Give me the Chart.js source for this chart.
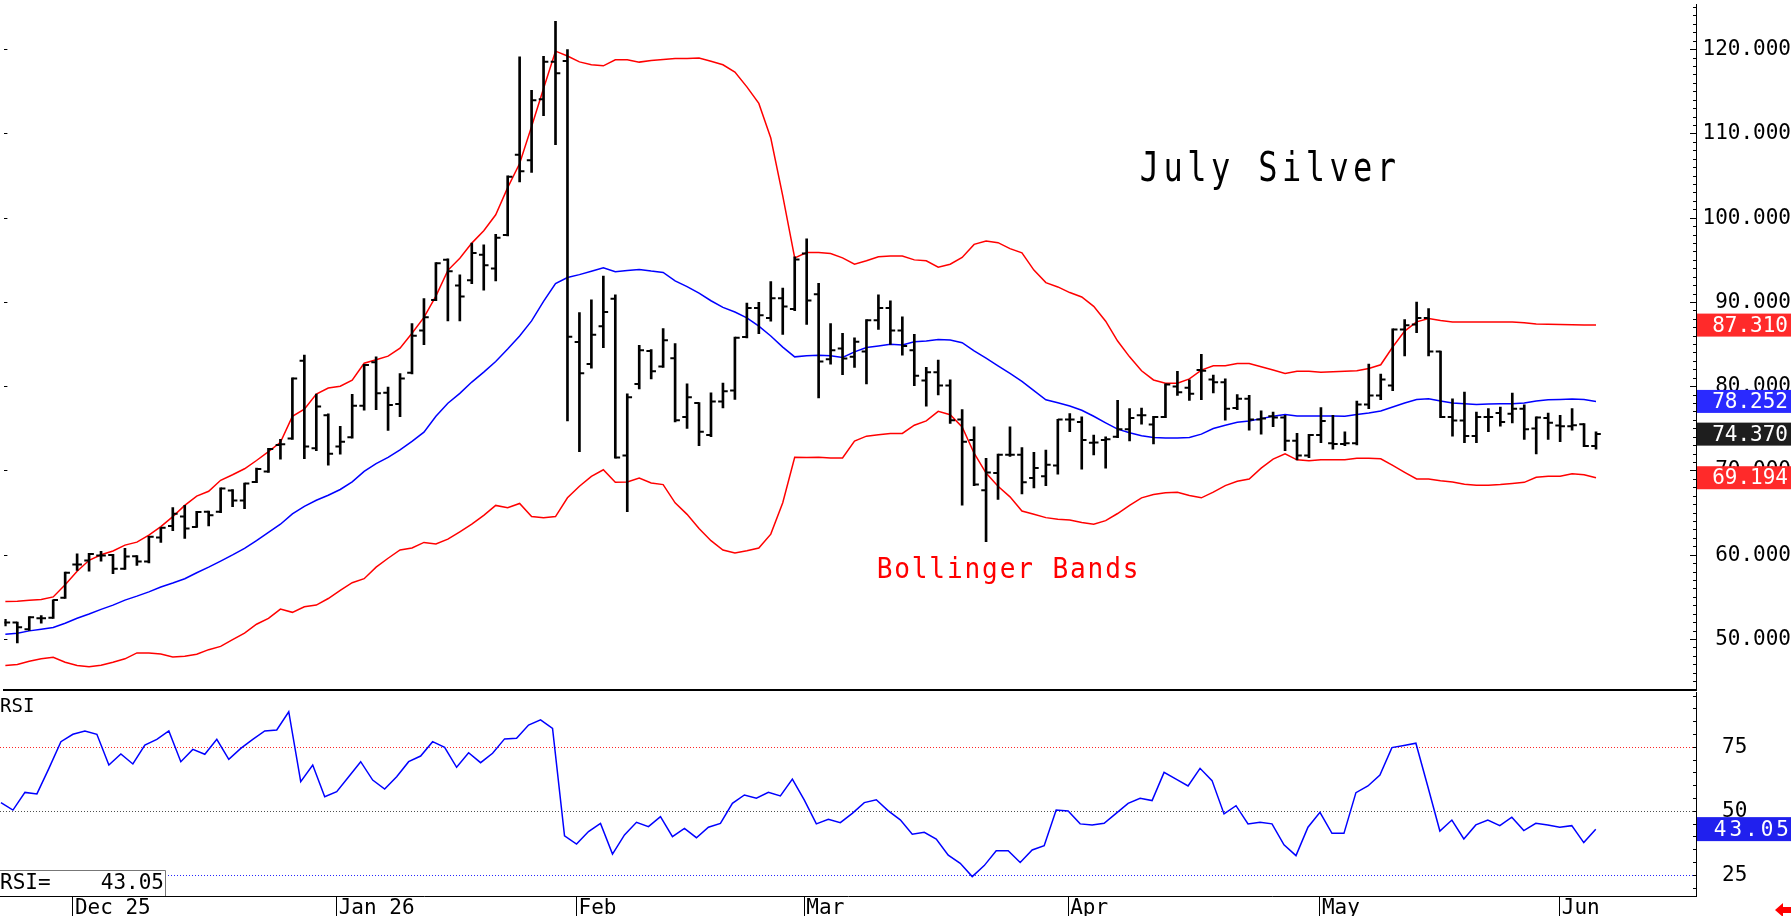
<!DOCTYPE html>
<html>
<head>
<meta charset="utf-8">
<title>July Silver</title>
<script src="https://cdn.jsdelivr.net/npm/chart.js@4.4.1/dist/chart.umd.min.js"></script>
<style>
  html, body { margin: 0; padding: 0; background: #fff; overflow: hidden; }
  #stage { position: relative; width: 1791px; height: 916px; }
  #priceChart { position: absolute; left: 0; top: 0; }
  #rsiChart { position: absolute; left: 0; top: 692px; }
</style>
</head>
<body>
<div id="stage">
  <canvas id="priceChart" width="1791" height="694"></canvas>
  <canvas id="rsiChart" width="1791" height="224"></canvas>
</div>
<script>
// daily bars, July silver, 20 Nov 2025 .. 4 Jun 2026
const opens = [52.0,52.0,51.22,52.51,52.59,54.94,58.9,59.37,59.96,60.03,
  58.39,59.88,59.25,62.11,63.48,64.58,63.36,65.17,65.17,67.67,
  66.5,68.69,69.94,73.08,73.84,83.07,72.7,76.6,72.91,74.0,
  77.74,82.9,79.29,77.95,81.64,86.68,90.29,95.07,92.01,92.64,
  95.66,94.02,98.01,107.54,106.86,114.12,118.57,118.66,85.3,82.7,
  87.18,90.43,71.83,80.33,84.24,82.4,83.38,76.41,78.05,74.26,
  78.25,79.54,85.89,89.34,88.16,90.51,89.22,95.8,90.98,83.26,
  84.52,83.54,84.17,87.89,89.34,86.67,84.32,80.72,81.7,80.13,
  76.1,73.67,67.71,69.75,71.91,71.91,69.16,69.36,70.65,76.1,
  75.82,73.36,73.67,74.06,74.96,76.61,75.51,76.41,80.01,79.86,
  81.97,80.84,80.52,77.47,78.57,76.1,76.49,76.33,73.59,71.83,
  74.26,73.28,73.2,73.28,77.9,78.96,80.13,86.79,87.38,88.16,
  84.17,76.41,76.0,74.14,76.41,76.88,76.8,77.39,75.04,76.29,
  75.39,75.31,75.55,72.96];
const highs = [52.4,52.05,52.71,52.83,54.7,58.0,60.15,60.23,60.46,60.1,
  60.82,59.95,62.23,63.29,65.64,65.91,65.2,65.25,67.99,67.79,
  68.57,70.34,72.69,73.74,81.05,83.74,79.13,76.77,75.3,79.09,
  82.65,83.53,79.96,81.56,87.48,90.46,94.74,95.16,93.27,97.04,
  96.83,98.09,105.02,119.16,115.17,119.2,123.36,120.0,88.8,90.32,
  93.14,90.9,79.15,84.91,84.4,86.91,85.11,80.33,78.1,79.27,
  80.44,85.89,89.92,90.0,92.47,91.69,95.41,97.56,92.27,87.49,
  86.32,85.81,87.97,90.9,90.2,88.28,86.2,82.29,83.15,80.8,
  77.27,75.24,71.51,71.99,75.24,72.77,72.22,72.49,76.14,76.8,
  76.41,74.26,74.06,78.37,77.39,77.47,76.49,80.33,81.82,80.8,
  83.85,81.38,80.92,79.07,78.96,77.12,77.0,76.61,74.45,74.34,
  77.51,76.61,74.65,78.29,82.68,81.5,86.87,87.97,90.04,89.26,
  84.24,78.57,79.35,77.0,77.39,77.59,79.23,77.86,76.41,76.88,
  76.61,77.39,75.63,74.65];
const lows = [51.6,49.58,51.06,51.93,52.51,54.86,58.19,58.11,59.29,57.8,
  58.3,58.78,59.09,61.52,62.9,62.0,63.3,63.48,65.05,65.75,
  65.52,68.6,69.83,71.39,73.75,71.45,72.41,70.69,71.99,73.9,
  77.2,77.28,74.8,76.44,81.52,85.0,90.2,87.81,87.81,92.22,
  91.46,92.55,97.88,104.3,105.44,112.15,108.71,75.93,72.3,82.21,
  84.64,71.51,65.17,79.74,80.91,82.29,75.82,75.04,73.0,74.06,
  77.47,78.48,85.8,86.28,87.77,86.2,89.02,87.38,78.68,82.68,
  81.42,82.29,80.33,86.79,85.03,83.73,80.13,77.7,79.03,75.63,
  65.95,68.26,61.6,66.62,71.71,67.28,67.99,68.26,69.63,74.65,
  70.22,71.9,70.34,73.95,73.55,75.55,73.2,76.33,78.96,78.37,
  78.45,79.27,76.02,77.27,74.84,74.37,75.24,72.42,71.32,71.59,
  73.36,72.57,73.0,73.08,77.39,78.45,79.54,83.66,86.4,83.66,
  76.33,74.14,73.36,73.36,74.65,75.31,75.71,73.75,72.02,73.75,
  73.47,74.84,72.88,72.57];
const closes = [52.0,51.46,52.63,52.51,54.67,57.92,58.9,60.15,59.96,58.39,
  59.84,59.25,62.19,63.25,64.93,63.17,65.13,64.73,67.91,66.5,
  68.5,70.22,72.61,73.16,80.97,72.91,77.66,72.05,73.46,77.74,
  82.57,79.21,77.83,80.97,86.05,88.23,94.65,93.69,90.71,95.87,
  94.4,97.67,104.93,105.56,114.0,118.57,117.19,85.92,81.6,86.15,
  88.87,71.59,78.76,84.32,81.82,85.5,76.02,78.76,74.65,78.25,
  79.47,85.81,89.34,88.47,90.51,89.53,95.09,90.24,82.99,84.32,
  83.34,85.34,87.89,89.34,86.67,84.83,81.31,81.7,80.13,76.02,
  73.47,68.38,69.83,71.91,71.91,68.65,70.34,70.73,76.1,76.1,
  73.67,73.39,73.75,74.96,76.29,76.61,76.41,80.25,79.35,79.15,
  81.89,80.52,77.39,78.57,76.1,76.21,76.33,73.59,71.83,74.26,
  75.94,73.2,73.28,77.9,78.96,80.84,86.79,87.3,88.16,84.17,
  76.41,76.0,74.14,76.41,76.41,75.82,77.39,74.96,76.33,75.71,
  75.31,75.43,72.96,74.37];

// Bollinger bands
const upper = [54.5,54.55,54.65,54.75,55.05,56.5,58.1,59.4,60.05,60.5,
  61.2,61.55,62.38,63.4,64.58,65.91,67.01,67.59,68.89,69.55,
  70.26,71.24,72.3,73.4,76.48,77.32,79.13,79.84,80.05,80.76,
  82.78,83.2,83.62,84.58,86.35,88.23,90.75,93.81,95.24,97.04,
  98.51,100.4,103.63,106.49,110.89,115.38,119.82,119.25,118.55,118.22,
  118.08,118.79,118.79,118.52,118.71,118.83,118.95,118.95,119.02,118.63,
  118.2,117.34,115.58,113.62,109.51,102.65,95.29,95.92,95.92,95.8,
  95.29,94.54,94.94,95.41,95.52,95.52,95.05,94.94,94.19,94.54,
  95.33,96.89,97.28,97.09,96.38,95.88,93.84,92.35,91.84,91.17,
  90.65,89.53,87.77,85.42,83.54,81.89,80.8,80.41,80.41,80.92,
  81.97,82.48,82.48,82.76,82.76,82.37,81.97,81.58,81.82,81.82,
  81.7,81.78,81.82,81.89,82.17,82.6,84.71,86.6,87.69,88.08,
  87.85,87.69,87.69,87.69,87.69,87.69,87.69,87.6,87.45,87.42,
  87.38,87.35,87.31,87.31];
const middle = [50.63,50.75,51.02,51.22,51.42,51.93,52.51,53.02,53.57,54.08,
  54.67,55.14,55.65,56.23,56.7,57.21,57.92,58.58,59.29,60.03,
  60.82,61.72,62.7,63.68,64.9,65.8,66.52,67.12,67.8,68.7,
  69.95,70.86,71.62,72.5,73.5,74.6,76.48,78.03,79.21,80.55,
  81.73,82.99,84.46,86.01,87.81,90.12,92.25,92.95,93.3,93.7,
  94.11,93.64,93.8,93.92,93.72,93.56,92.55,91.88,91.1,90.2,
  89.41,88.86,88.16,87.18,86.01,84.7,83.54,83.66,83.73,83.66,
  83.46,84.13,84.64,84.83,85.03,84.95,85.34,85.42,85.61,85.54,
  85.22,84.24,83.38,82.48,81.58,80.64,79.54,78.45,78.1,77.7,
  77.2,76.49,75.71,74.96,74.53,74.18,73.98,73.9,73.9,73.98,
  74.37,75.04,75.43,75.78,75.94,76.21,76.49,76.69,76.53,76.53,
  76.53,76.53,76.49,76.69,76.88,77.12,77.59,78.06,78.49,78.57,
  78.29,78.06,77.98,77.9,77.94,77.98,77.98,78.06,78.29,78.45,
  78.49,78.53,78.49,78.252];
const lower = [46.91,47.03,47.42,47.7,47.89,47.3,46.91,46.75,46.95,47.3,
  47.7,48.4,48.4,48.28,47.93,48.01,48.24,48.79,49.18,49.97,
  50.75,51.81,52.51,53.61,53.22,53.88,54.08,54.86,55.84,56.74,
  57.21,58.58,59.64,60.62,60.86,61.52,61.33,61.91,62.78,63.68,
  64.73,65.91,65.63,66.14,64.58,64.46,64.58,66.81,68.18,69.36,
  70.14,68.65,68.69,69.16,68.57,68.38,66.22,64.85,63.17,61.72,
  60.62,60.27,60.54,60.86,62.5,66.22,71.63,71.59,71.63,71.55,
  71.55,73.55,74.13,74.29,74.45,74.45,75.43,75.94,77.07,76.68,
  75.23,72.1,69.75,68.18,66.93,65.24,64.85,64.46,64.26,64.19,
  63.87,63.68,64.1,64.95,65.91,66.81,67.2,67.4,67.48,67.09,
  66.81,67.48,68.26,68.77,69.05,70.34,71.4,72.02,71.32,71.2,
  71.32,71.32,71.32,71.51,71.51,71.44,70.65,69.83,69.05,69.05,
  68.85,68.69,68.42,68.3,68.3,68.38,68.5,68.65,69.24,69.36,
  69.36,69.67,69.56,69.194];

// RSI
const rsi = [53.4,50.5,57.4,56.8,66.8,77.2,80.1,81.4,80.1,68.1,
  72.4,68.5,75.9,78.1,81.4,69.4,74.2,72.3,78.1,70.3,
  74.6,78.1,81.4,81.8,88.9,61.6,68.1,55.7,57.7,63.5,
  69.4,62.2,58.7,63.5,69.4,71.6,77.2,75.0,67.2,72.9,
  69.0,72.7,78.3,78.5,83.7,85.7,82.4,40.4,37.2,42.1,
  45.3,33.3,40.8,45.7,44.0,47.9,40.1,43.3,39.7,43.8,
  45.3,53.1,56.4,55.1,57.4,56.0,62.6,54.4,45.1,46.9,
  45.6,49.2,53.4,54.5,50.2,46.7,41.1,41.8,39.2,32.9,
  29.7,24.5,28.8,34.6,34.6,30.0,34.9,36.6,50.5,50.1,
  45.1,44.7,45.3,49.2,53.1,55.1,54.2,65.2,62.6,59.9,
  66.8,62.0,49.0,52.2,45.1,45.7,45.1,36.9,32.7,43.8,
  49.6,41.4,41.4,57.3,59.9,64.2,74.9,75.7,76.6,59.6,
  42.3,46.6,39.2,44.7,46.6,44.4,47.7,42.5,45.3,44.7,
  43.8,44.4,37.8,43.05];

const priceTicks = [50, 60, 70, 80, 90, 100, 110, 120];
const rsiLevels = [25, 50, 75];
const holidays = ['2025-11-27','2025-12-25','2026-01-01','2026-01-19','2026-02-16','2026-04-03','2026-05-25'];
const monthNames = ['Jan','Feb','Mar','Apr','May','Jun','Jul','Aug','Sep','Oct','Nov','Dec'];

const titleText = 'July Silver';
const bandsText = 'Bollinger Bands';

// trading calendar for the x axis
function tradingDays(start, count) {
  const out = [];
  const d = new Date(start + 'T12:00:00Z');
  while (out.length < count) {
    const wd = d.getUTCDay();
    const iso = d.toISOString().slice(0, 10);
    if (wd !== 0 && wd !== 6 && !holidays.includes(iso)) out.push(new Date(d));
    d.setUTCDate(d.getUTCDate() + 1);
  }
  return out;
}
const dates = tradingDays('2025-11-20', closes.length);
const monthStarts = [];
const monthLabels = [];
dates.forEach((d, i) => {
  if (i === 0 || d.getUTCMonth() === dates[i - 1].getUTCMonth()) return;
  const m = d.getUTCMonth();
  const withYear = monthLabels.length === 0 || m === 0;
  monthStarts.push(i);
  monthLabels.push(withYear ? monthNames[m] + ' ' + String(d.getUTCFullYear()).slice(2) : monthNames[m]);
});

const MONO = '"DejaVu Sans Mono", "Liberation Mono", monospace';
const X_MIN = -0.08, X_MAX = 141.36;
const PRICE_MIN = 44.05, PRICE_MAX = 125.37;
const RSI_MIN = 16.93, RSI_MAX = 96.61;

Chart.defaults.font.family = MONO;
Chart.defaults.color = '#000';

const xy = (arr, dx) => arr.map((v, i) => ({x: i + (dx || 0), y: v}));

// text in fixed-width cells, glyphs squeezed a little
function cellText(ctx, text, x, baseline, cell, squeeze) {
  for (let i = 0; i < text.length; i++) {
    ctx.save();
    ctx.translate(x + cell * (i + 0.5), baseline);
    ctx.scale(squeeze, 1);
    ctx.textAlign = 'center';
    ctx.fillText(text[i], 0, 0);
    ctx.restore();
  }
}

const priceOverlay = {
  id: 'priceOverlay',
  afterDatasetsDraw(chart) {
    const ctx = chart.ctx;
    ctx.save();
    ctx.textBaseline = 'alphabetic';
    ctx.fillStyle = '#000';
    ctx.font = '40px ' + MONO;
    cellText(ctx, titleText, 1137.6, 181, 23.7, 0.8);
    ctx.fillStyle = '#ff0000';
    ctx.font = '27.5px ' + MONO;
    cellText(ctx, bandsText, 875.7, 578, 17.58, 0.95);
    ctx.restore();
  },
  afterDraw(chart) {
    const ctx = chart.ctx;
    const y = chart.scales.y;
    const last = closes.length - 1;
    const tags = [
      [upper[last], '#ff2a2a'],
      [middle[last], '#2a2aff'],
      [closes[last], '#1e1e1e'],
      [lower[last], '#ff2a2a']
    ];
    ctx.save();
    ctx.font = '21px ' + MONO;
    ctx.textAlign = 'right';
    ctx.textBaseline = 'middle';
    tags.forEach(([v, c]) => {
      const py = y.getPixelForValue(v);
      ctx.fillStyle = c;
      ctx.fillRect(1697, py - 11.5, 94, 23);
      ctx.fillStyle = '#fff';
      ctx.fillText(v.toFixed(3), 1788, py + 1);
    });
    ctx.restore();
  }
};

new Chart(document.getElementById('priceChart'), {
  type: 'scatter',
  data: {
    datasets: [
      { type: 'bar', data: highs.map((h, i) => ({x: i, y: [lows[i], h]})),
        backgroundColor: '#000', borderWidth: 0, barThickness: 2, grouped: false, order: 0, yAxisID: 'y' },
      { type: 'scatter', data: xy(opens, -0.2), pointStyle: 'line', pointRadius: 2.4, pointHoverRadius: 2.4,
        borderWidth: 2, pointBorderWidth: 2, borderColor: '#000', backgroundColor: '#000', order: 0, yAxisID: 'y' },
      { type: 'scatter', data: xy(closes, 0.2), pointStyle: 'line', pointRadius: 2.4, pointHoverRadius: 2.4,
        borderWidth: 2, pointBorderWidth: 2, borderColor: '#000', backgroundColor: '#000', order: 0, yAxisID: 'y' },
      { type: 'line', data: xy(upper), borderColor: '#ff0000', borderWidth: 1.5, pointRadius: 0, tension: 0, order: 1, yAxisID: 'y' },
      { type: 'line', data: xy(middle), borderColor: '#0000ff', borderWidth: 1.5, pointRadius: 0, tension: 0, order: 1, yAxisID: 'y' },
      { type: 'line', data: xy(lower), borderColor: '#ff0000', borderWidth: 1.5, pointRadius: 0, tension: 0, order: 1, yAxisID: 'y' }
    ]
  },
  options: {
    responsive: false,
    animation: false,
    events: [],
    devicePixelRatio: 1,
    layout: { padding: { left: 0, right: 0, top: 0, bottom: 2 } },
    plugins: { legend: { display: false }, tooltip: { enabled: false } },
    scales: {
      x: {
        type: 'linear', min: X_MIN, max: X_MAX, offset: false,
        grid: { display: false, offset: false },
        ticks: { display: false },
        border: { display: true, color: '#000', width: 2 },
        afterFit(s) { s.height = 0; s.paddingLeft = 0; s.paddingRight = 0; }
      },
      y: {
        type: 'linear', position: 'right', weight: 1, min: PRICE_MIN, max: PRICE_MAX,
        afterBuildTicks(s) { s.ticks = priceTicks.map(v => ({value: v})); },
        ticks: { autoSkip: false, crossAlign: 'far', padding: 9.5, color: '#000',
          font: { family: MONO, size: 21 }, callback: v => Number(v).toFixed(3) },
        grid: { display: true, drawOnChartArea: false, drawTicks: true, tickLength: -6, tickColor: '#000', tickWidth: 1 },
        border: { display: true, color: '#000', width: 1 },
        afterFit(s) { s.width = 95; s.paddingTop = 0; s.paddingBottom = 0; }
      },
      yMinor: {
        type: 'linear', position: 'right', weight: 0, min: PRICE_MIN, max: PRICE_MAX,
        afterBuildTicks(s) { s.ticks = Array.from({length: 81}, (_, i) => ({value: 45 + i})); },
        ticks: { display: false },
        grid: { display: true, drawOnChartArea: false, drawTicks: true, tickLength: -3, tickColor: '#000', tickWidth: 1 },
        border: { display: false },
        afterFit(s) { s.width = 0; s.paddingTop = 0; s.paddingBottom = 0; }
      },
      yLeft: {
        type: 'linear', position: 'left', min: PRICE_MIN, max: PRICE_MAX,
        afterBuildTicks(s) { s.ticks = priceTicks.map(v => ({value: v})); },
        ticks: { display: false },
        grid: { display: true, drawOnChartArea: false, drawTicks: true, tickLength: -3, tickColor: '#000', tickWidth: 1 },
        border: { display: false },
        afterFit(s) { s.width = 0; s.paddingTop = 0; s.paddingBottom = 0; }
      }
    }
  },
  plugins: [priceOverlay]
});

const guideColors = { 75: 'rgba(255,0,0,0.85)', 50: 'rgba(60,60,60,0.9)', 25: 'rgba(0,0,255,0.85)' };

const rsiOverlay = {
  id: 'rsiOverlay',
  afterDatasetsDraw(chart) {
    const ctx = chart.ctx;
    const lastVal = rsi[rsi.length - 1].toFixed(2);
    ctx.save();
    ctx.fillStyle = '#000';
    ctx.textBaseline = 'alphabetic';
    ctx.textAlign = 'left';
    ctx.font = '19px ' + MONO;
    ctx.fillText('RSI', 0, 20);
    // readout box, bottom left
    ctx.fillStyle = '#fff';
    ctx.fillRect(0, 179, 165, 24);
    ctx.strokeStyle = '#777';
    ctx.lineWidth = 1;
    ctx.beginPath();
    ctx.moveTo(0, 178.5);
    ctx.lineTo(165.5, 178.5);
    ctx.lineTo(165.5, 204);
    ctx.stroke();
    ctx.fillStyle = '#000';
    ctx.font = '21px ' + MONO;
    ctx.fillText('RSI=', 0, 197);
    ctx.textAlign = 'right';
    ctx.fillText(lastVal, 164, 197);
    ctx.restore();
  },
  afterDraw(chart) {
    const ctx = chart.ctx;
    const y = chart.scales.y;
    const v = rsi[rsi.length - 1];
    const py = y.getPixelForValue(v);
    ctx.save();
    ctx.fillStyle = '#2020ee';
    ctx.fillRect(1697, py - 12, 94, 24);
    ctx.fillStyle = '#fff';
    ctx.font = '21px ' + MONO;
    ctx.textAlign = 'right';
    ctx.textBaseline = 'middle';
    ctx.letterSpacing = '3px';
    ctx.fillText(v.toFixed(2), 1792, py + 1);
    ctx.letterSpacing = '0px';
    // small red arrow, bottom right corner
    ctx.fillStyle = '#ff0000';
    ctx.beginPath();
    ctx.moveTo(1775, 218);
    ctx.lineTo(1783, 211);
    ctx.lineTo(1783, 215);
    ctx.lineTo(1791, 215);
    ctx.lineTo(1791, 221);
    ctx.lineTo(1783, 221);
    ctx.lineTo(1783, 225);
    ctx.closePath();
    ctx.fill();
    ctx.restore();
  }
};

new Chart(document.getElementById('rsiChart'), {
  type: 'line',
  data: {
    datasets: [
      { data: xy(rsi), borderColor: '#0000ff', borderWidth: 1.5, pointRadius: 0, tension: 0, yAxisID: 'y' }
    ]
  },
  options: {
    responsive: false,
    animation: false,
    events: [],
    devicePixelRatio: 1,
    layout: { padding: 0 },
    plugins: { legend: { display: false }, tooltip: { enabled: false } },
    scales: {
      x: {
        type: 'linear', position: 'bottom', min: X_MIN, max: X_MAX, offset: false,
        afterBuildTicks(s) { s.ticks = monthStarts.map(i => ({value: i})); },
        ticks: { autoSkip: false, maxRotation: 0, minRotation: 0, align: 'start', labelOffset: 2, padding: -20,
          color: '#000', font: { family: MONO, size: 21 }, callback: (v, i) => monthLabels[i] },
        grid: { display: true, drawOnChartArea: false, drawTicks: true, tickLength: 20, tickColor: '#000', tickWidth: 1 },
        border: { display: true, color: '#000', width: 1 },
        afterFit(s) { s.height = 20; s.paddingLeft = 0; s.paddingRight = 0; }
      },
      y: {
        type: 'linear', position: 'right', min: RSI_MIN, max: RSI_MAX,
        afterBuildTicks(s) { s.ticks = Array.from({length: 16}, (_, i) => ({value: 20 + 5 * i})); },
        ticks: { autoSkip: false, crossAlign: 'near', padding: 29, color: '#000',
          font: { family: MONO, size: 21 }, callback: v => rsiLevels.includes(v) ? String(v) : '' },
        grid: {
          display: true, drawOnChartArea: true, drawTicks: true, tickLength: -3, tickColor: '#000', tickWidth: 1,
          lineWidth: 1,
          color: c => (c.tick && guideColors[c.tick.value]) || 'rgba(0,0,0,0)'
        },
        border: { display: true, color: '#000', width: 1, dash: [1, 2] },
        afterFit(s) { s.width = 95; s.paddingTop = 0; s.paddingBottom = 0; }
      }
    }
  },
  plugins: [rsiOverlay]
});
</script>
</body>
</html>
